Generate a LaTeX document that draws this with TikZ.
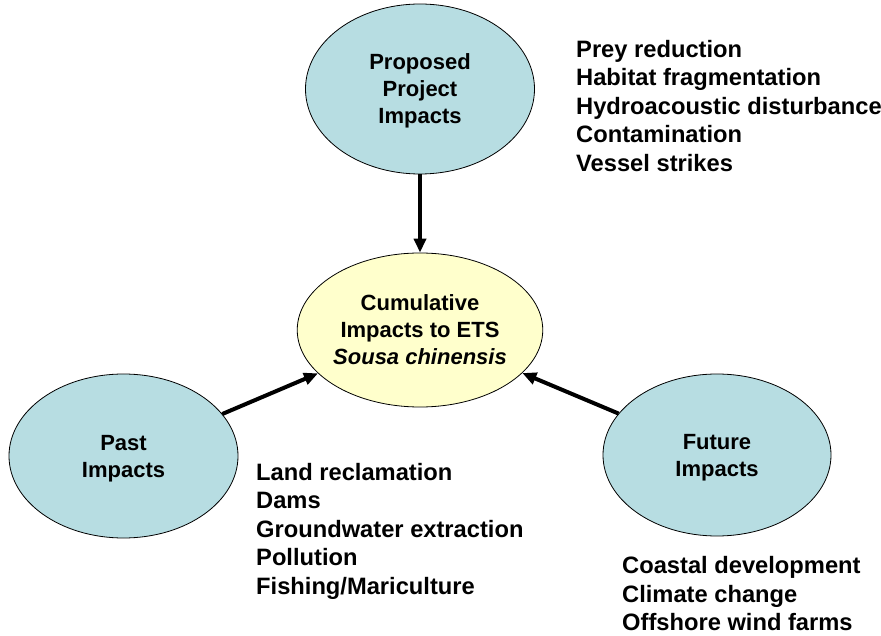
\documentclass[tikz,border=0pt]{standalone}
\usepackage{fontspec}
\setmainfont{Liberation Sans}
\usetikzlibrary{shapes.geometric,arrows.meta}
\definecolor{impactblue}{RGB}{183,221,226}
\definecolor{impactyellow}{RGB}{255,255,204}
\begin{document}
\begin{tikzpicture}[x=1pt, y=1pt, >={Triangle[length=14pt,width=12pt]},
    main node/.style={ellipse, draw, line width=0.8pt, fill=impactblue, inner sep=0pt, text depth=0pt, align=center, font=\fontsize{22}{27}\selectfont\bfseries},
    list node/.style={anchor=north west, inner sep=0pt, align=left, font=\fontsize{23.7}{28.5}\selectfont\bfseries}]
        \useasboundingbox (0,0) rectangle (881,635);

          % the four impact ellipses
          \node[main node, minimum width=229, minimum height=170] (1) at (420,546) {Proposed\\Project\\Impacts};
          \node[main node, fill=impactyellow, minimum width=223, minimum height=154] (2) at (420,305) {Cumulative\\Impacts to ETS\\\textit{Sousa chinensis}};
          \node[main node, minimum width=229, minimum height=164] (3) at (123.5,179) {Past\\Impacts};
          \node[main node, minimum width=228, minimum height=162] (4) at (717,180) {Future\\Impacts};

          % lists of impacts
          \node[list node] (5) at (576,595) {Prey reduction\\Habitat fragmentation\\Hydroacoustic disturbance\\Contamination\\Vessel strikes};
          \node[list node] (6) at (256,172) {Land reclamation\\Dams\\Groundwater extraction\\Pollution\\Fishing/Mariculture};
          \node[list node] (7) at (622,78.5) {Coastal development\\Climate change\\Offshore wind farms};

          \path[->, line width=4pt]
            (1) edge (2)
            (3) edge (2)
            (4) edge (2);

\end{tikzpicture}
\end{document}
